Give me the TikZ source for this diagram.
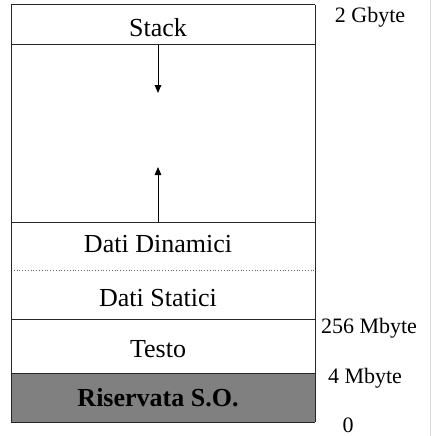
\documentclass[tikz,border=0pt]{standalone}
\usepackage{fontspec}
\setmainfont{Liberation Serif}
\usetikzlibrary{arrows.meta}
\begin{document}
\begin{tikzpicture}[x=1pt,y=1pt,
  seg/.style={draw=black!85,line width=1pt},
  lbl/.style={font=\fontsize{26}{29}\selectfont,inner sep=0pt},
  addr/.style={font=\fontsize{22}{25}\selectfont,inner sep=0pt},
  growarrow/.style={draw=black,line width=1pt,-{Triangle[length=8pt,width=6.5pt]}}]
\useasboundingbox (0,-436) rectangle (434,0);
\draw[black!15,line width=0.8pt] (430,0) -- (430,-436);
% rows
\fill[black!50] (11,-373) rectangle (315,-422);
\draw[seg] (11,-5) -- (315,-5);
\draw[seg] (11,-45) -- (315,-45);
\draw[seg] (11,-222) -- (315,-222);
\draw[black!60,line width=0.8pt,dotted] (11,-270) -- (315,-270);
\draw[seg] (11,-319) -- (315,-319);
\draw[seg] (11,-373) -- (315,-373);
\draw[seg] (11,-422) -- (315,-422);
\draw[seg] (11,-5) -- (11,-422);
\draw[seg] (315,-5) -- (315,-422);
% texts
\node[lbl] (stack) at (158,-28) {Stack};
\node[lbl] (dyn) at (158,-244) {Dati Dinamici};
\node[lbl] (stat) at (158,-298) {Dati Statici};
\node[lbl] (testo) at (158,-349) {Testo};
\node[lbl,font=\fontsize{26}{29}\selectfont\bfseries] (ris) at (158,-398) {Riservata S.O.};
% addresses
\node[addr] (a2g) at (370,-17) {2 Gbyte};
\node[addr] (a256) at (369,-328) {256 Mbyte};
\node[addr] (a4m) at (365,-378) {4 Mbyte};
\node[addr] (a0) at (348,-425) {0};
% arrows
\coordinate (sd0) at (158,-45);
\coordinate (sd1) at (158,-93);
\coordinate (hu0) at (158,-222);
\coordinate (hu1) at (158,-167);
\draw[growarrow] (sd0) -- (sd1);
\draw[growarrow] (hu0) -- (hu1);
\end{tikzpicture}
\end{document}
